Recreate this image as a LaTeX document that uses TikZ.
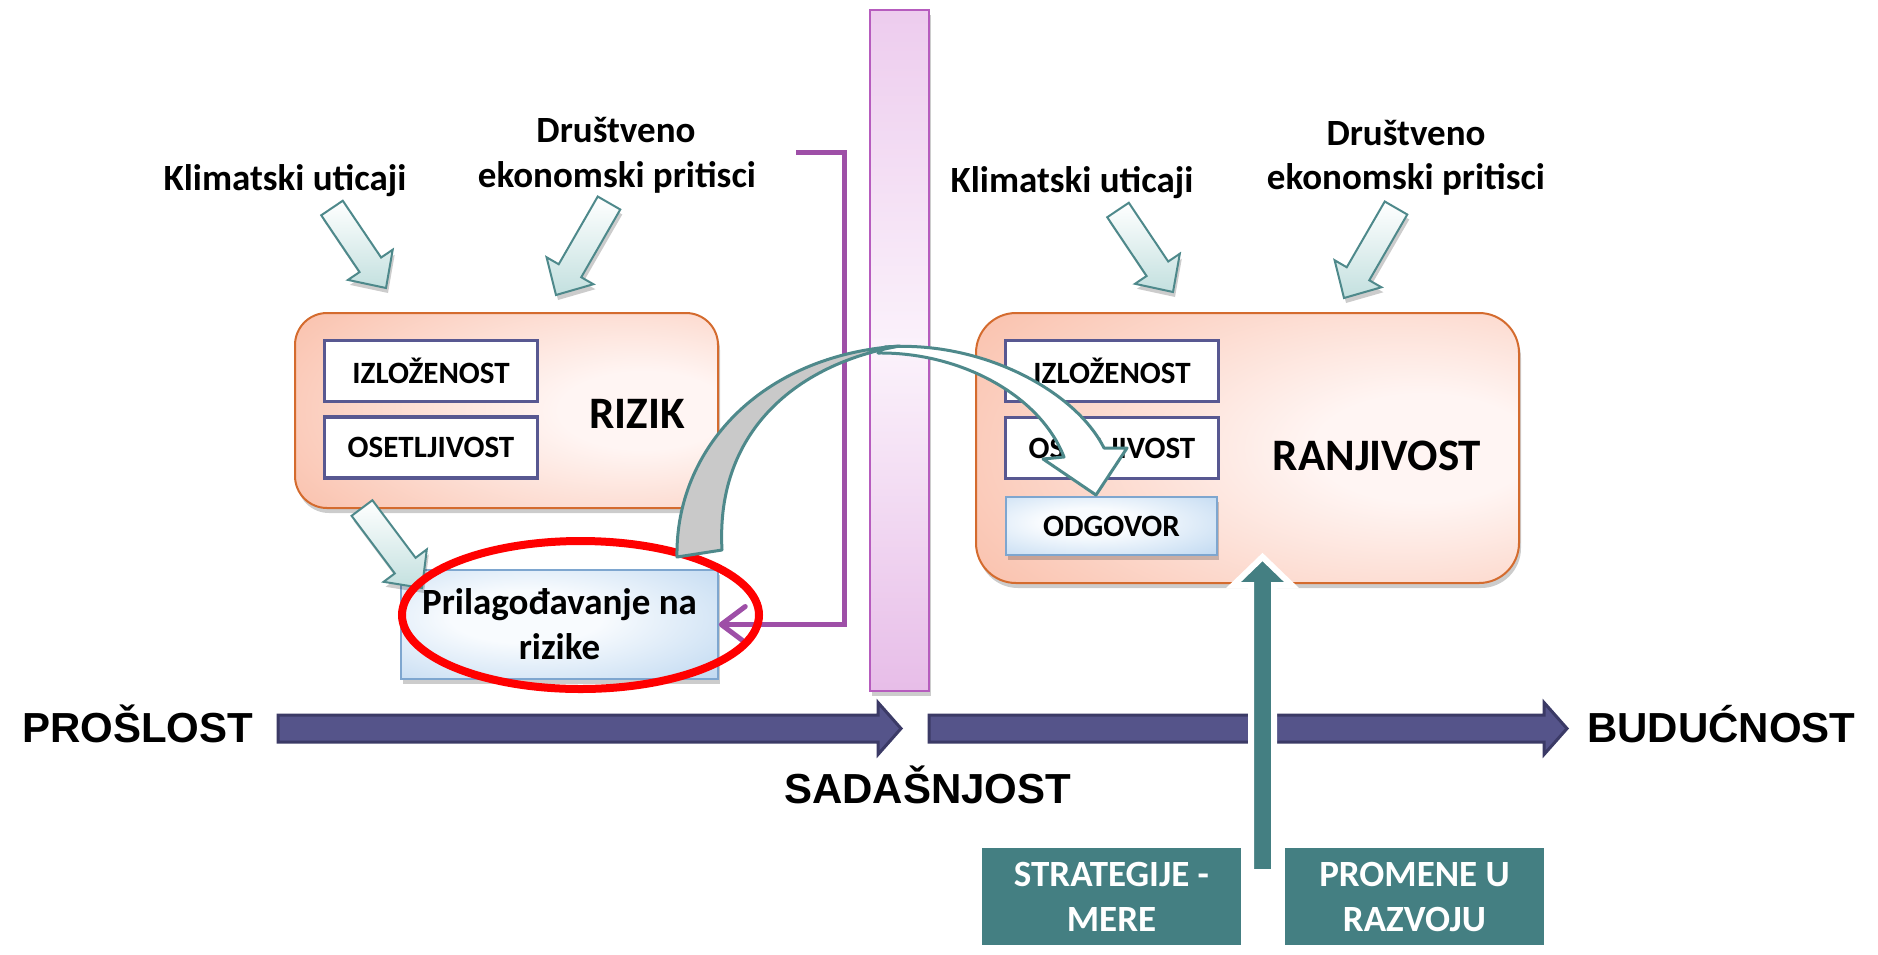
\documentclass[tikz,border=0pt]{standalone}
\usepackage{fontspec}
\setmainfont{Carlito}
\newfontfamily\timefont{Liberation Sans}
\usetikzlibrary{calc,shadows,arrows.meta}

\definecolor{slateedge}{HTML}{585891}
\definecolor{timeblue}{HTML}{55548A}
\definecolor{timedark}{HTML}{3B3A66}
\definecolor{tealfill}{HTML}{447F82}
\definecolor{tealedge}{HTML}{4E898B}
\definecolor{plumline}{HTML}{9E4FA7}
\definecolor{baredge}{HTML}{B65CBE}
\definecolor{bartop}{HTML}{EDCCEE}
\definecolor{barmid}{HTML}{FBF2FB}
\definecolor{barbot}{HTML}{E7BDE8}
\definecolor{salmonedge}{HTML}{D46B2E}
\definecolor{salmonin}{HTML}{FFF5F3}
\definecolor{salmonout}{HTML}{F9BAA3}
\definecolor{blueedge}{HTML}{7EA6CF}
\definecolor{bluein}{HTML}{F8FBFE}
\definecolor{blueout}{HTML}{B3D1EE}
\definecolor{aquaout}{HTML}{C3E0DF}
\definecolor{bandgray}{HTML}{C9C9C9}

% soft glows for the big boxes and the light blue boxes
\pgfdeclareradialshading{peachglow}{\pgfpoint{18bp}{0bp}}{%
  color(0bp)=(salmonin); color(10bp)=(salmonin); color(48bp)=(salmonout); color(100bp)=(salmonout)}
\pgfdeclareradialshading{blueglow}{\pgfpoint{-6bp}{4bp}}{%
  color(0bp)=(bluein); color(12bp)=(bluein); color(46bp)=(blueout); color(100bp)=(blueout)}

% block arrow from a tail point #1 to a tip point #2
\newcommand\blockarr[2]{%
  \coordinate (#2-hb) at ($(#2)!28pt!(#1)$);
  \path[blockarrow]
    ($(#1)!13pt!90:(#2)$) -- ($(#2-hb)!13pt!90:(#2)$) -- ($(#2-hb)!27pt!90:(#2)$)
    -- (#2)
    -- ($(#2-hb)!27pt!-90:(#2)$) -- ($(#2-hb)!13pt!-90:(#2)$) -- ($(#1)!13pt!-90:(#2)$) -- cycle;}

% horizontal time arrow from #1 to the tip #2
\newcommand\timearr[2]{%
  \path[timearrow]
    ($(#1)+(0,-13.5)$) -- ($(#2)+(-23,-13.5)$) -- ($(#2)+(-23,-26)$) -- (#2)
    -- ($(#2)+(-23,26)$) -- ($(#2)+(-23,13.5)$) -- ($(#1)+(0,13.5)$) -- cycle;}

\begin{document}
\begin{tikzpicture}[x=1pt,y=-1pt,
  softshadow/.style={drop shadow={shadow xshift=2pt,shadow yshift=-5pt,opacity=0.2,fill=black}},
  toplabel/.style={font=\fontsize{37}{45}\selectfont\bfseries,anchor=base,inner sep=0pt},
  timelabel/.style={font=\timefont\bfseries\fontsize{42}{50}\selectfont,anchor=base west,inner sep=0pt},
  bigbox/.style={draw=salmonedge,line width=2pt,shading=peachglow,softshadow},
  itembox/.style={draw=slateedge,line width=3.5pt,fill=white,minimum width=213,minimum height=61,
    font=\fontsize{31}{37}\selectfont\bfseries,inner sep=0pt},
  bluebox/.style={draw=blueedge,line width=1.5pt,shading=blueglow,softshadow,
    align=center,inner sep=0pt},
  tealbox/.style={draw=white,line width=6pt,fill=tealfill,text=white,minimum width=265,minimum height=103,
    font=\fontsize{37}{45}\selectfont\bfseries,align=center,inner sep=0pt,
    drop shadow={shadow xshift=1pt,shadow yshift=-2pt,opacity=0.25,fill=black}},
  blockarrow/.style={draw=tealedge,line width=2pt,top color=white,bottom color=aquaout,softshadow},
  timearrow/.style={fill=timeblue,draw=timedark,line width=3pt},
  plumarrow/.style={draw=plumline,line width=5pt,-{Straight Barb[length=24pt,width=36pt,round]}},
  bandedge/.style={draw=tealedge,line width=3pt,line join=round},
  bignum/.style={font=\fontsize{45}{54}\selectfont\bfseries,inner sep=0pt}]

\useasboundingbox (0,0) rectangle (1878,954);

% the "present" bar
\node[draw=baredge,line width=2pt,minimum width=59,minimum height=681,inner sep=0pt,
  top color=bartop,bottom color=barbot,middle color=barmid,softshadow] (nowbar) at (899.5,350.5) {};

% feedback line into the adaptation box
\node[inner sep=0pt] (fbstart) at (796,152) {};
\coordinate (fbcorner) at (844,152);

% time axis
\node[timelabel] (past) at (22,742) {PROŠLOST};
\node[timelabel] (future) at (1587,742) {BUDUĆNOST};
\node[timelabel] (present) at (784,803) {SADAŠNJOST};
\coordinate (tl1s) at (278,728.5);
\coordinate (tl1e) at (901,728.5);
\coordinate (tl2s) at (929,728.5);
\coordinate (tl2e) at (1567,728.5);
\timearr{tl1s}{tl1e}
\timearr{tl2s}{tl2e}

% risk (left) and vulnerability (right) boxes
\node[bigbox,rounded corners=32pt,minimum width=423,minimum height=195] (rizik) at (506.5,410.5) {};
\node[bigbox,rounded corners=40pt,minimum width=543,minimum height=270] (ranj) at (1247.5,448) {};
\node[bignum] (rizikt) at (637,414) {RIZIK};
\node[bignum] (ranjt) at (1377,456) {RANJIVOST};

\node[itembox] (izL) at (431,371) {IZLOŽENOST};
\node[itembox] (osL) at (431,447.5) {OSETLJIVOST};
\node[itembox] (izR) at (1112,371) {IZLOŽENOST};
\node[itembox] (osR) at (1112,448) {OSETLJIVOST};
\node[bluebox,minimum width=211,minimum height=58,font=\fontsize{31}{37}\selectfont\bfseries] (odg) at (1111.5,526) {ODGOVOR};
\node[bluebox,minimum width=317,minimum height=109,font=\fontsize{37}{45}\selectfont\bfseries] (prilag) at (559.5,624.5) {Prilagođavanje na\\rizike};

\draw[plumarrow] (fbstart.center) -- (fbcorner) |- (prilag.east);

% labels above the boxes
\node[toplabel] (klL) at (285,190) {Klimatski uticaji};
\node[toplabel] (drL1) at (616,142) {Društveno};
\node[toplabel] (drL2) at (617,187) {ekonomski pritisci};
\node[toplabel] (klR) at (1072,192) {Klimatski uticaji};
\node[toplabel] (drR1) at (1406,145) {Društveno};
\node[toplabel] (drR2) at (1406,189) {ekonomski pritisci};

% block arrows
\coordinate (a1t) at (332,208);   \coordinate (a1p) at (386,288);
\coordinate (a2t) at (609,203);   \coordinate (a2p) at (556,295);
\coordinate (a3t) at (1118,210);  \coordinate (a3p) at (1173,292);
\coordinate (a4t) at (1396,208);  \coordinate (a4p) at (1344,298);
\coordinate (a5t) at (362,508);   \coordinate (a5p) at (422,588);
\blockarr{a1t}{a1p}
\blockarr{a2t}{a2p}
\blockarr{a3t}{a3p}
\blockarr{a4t}{a4p}
\blockarr{a5t}{a5p}

% red ring round the adaptation box
\coordinate (ring) at (580.5,615);
\draw[red,line width=8pt] (ring) ellipse [x radius=178.5,y radius=74];

% curved arrow from past adaptation to the response
\coordinate (cvtip) at (1096,495);
\path[bandedge,fill=white]
  (885,347) .. controls (980,340) and (1075,390) .. (1104,448)
  -- (1127,448) -- (cvtip) -- (1043,459) -- (1064,457)
  .. controls (1040,395) and (960,352) .. (878,353) -- cycle;
\path[bandedge,fill=bandgray]
  (677,557) .. controls (675,450) and (760,355) .. (900,346)
  .. controls (805,362) and (715,425) .. (722,550) -- cycle;

% strategy boxes and the upward arrow
\node[tealbox] (strat) at (1111.5,896.5) {STRATEGIJE -\\MERE};
\node[tealbox] (prom) at (1414.5,896.5) {PROMENE U\\RAZVOJU};
\coordinate (upbase) at (1262.5,872);
\coordinate (uptip) at (1262.5,557);
\path[fill=tealfill,draw=white,line width=6pt,
  drop shadow={shadow xshift=1pt,shadow yshift=-2pt,opacity=0.2,fill=black}]
  ($(upbase)+(-11.5,0)$) -- ($(uptip)+(-11.5,28)$) -- ($(uptip)+(-29,28)$) -- (uptip)
  -- ($(uptip)+(29,28)$) -- ($(uptip)+(11.5,28)$) -- ($(upbase)+(11.5,0)$) -- cycle;
\end{tikzpicture}
\end{document}
